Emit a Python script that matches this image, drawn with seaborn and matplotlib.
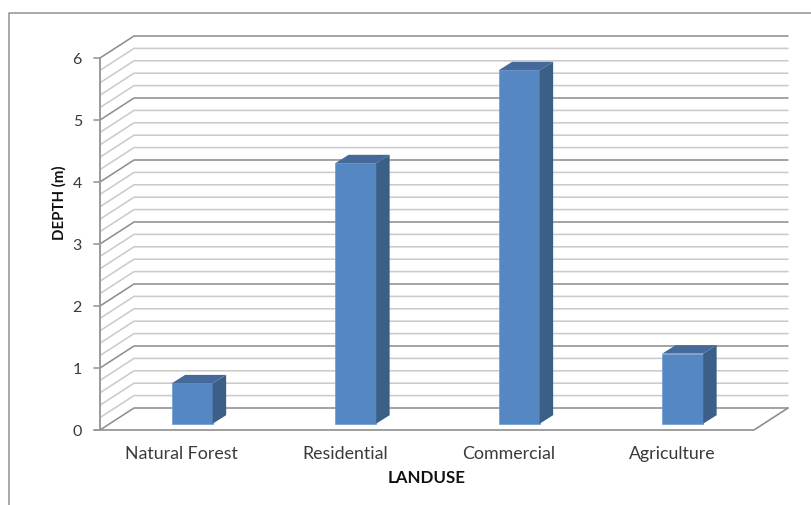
import matplotlib
matplotlib.use("Agg")
import matplotlib.pyplot as plt
from matplotlib.lines import Line2D
from matplotlib.patches import Polygon
import pandas as pd
import seaborn as sns

landuse = ["Natural Forest", "Residential", "Commercial", "Agriculture"]
depth = [0.65, 4.2, 5.7, 1.13]
y_major = [0, 1, 2, 3, 4, 5, 6]
y_minor = [0.2, 0.4, 0.6, 0.8]

W, H = 811, 505
PX_X, PX_Y = 163.5, 62.0          # pixels per category / per metre
DX, DY = 34 / PX_X, 22 / PX_Y     # wall depth in data units
BX, BY = 10.4 / PX_X, 6.3 / PX_Y  # bar shift from the front plane
SX, SY = 13.5 / PX_X, 8.5 / PX_Y  # bar depth
GREY_D, GREY_L, TXT = "#8f8f8f", "#cbcbcb", "#3a3a3a"

sns.set_theme(style="white")
plt.rcParams["font.family"] = ["Lato", "DejaVu Sans"]

fig = plt.figure(figsize=(W / 100, H / 100), dpi=100, facecolor="white")
ax = fig.add_axes([100 / W, (H - 430) / H, (654 + 34) / W, (372 + 22) / H])
ax.patch.set_alpha(0)

df = pd.DataFrame({"landuse": landuse, "depth": depth})
sns.barplot(data=df, x="landuse", y="depth", order=landuse, width=41 / PX_X,
            color="#5587c2", saturation=1, ax=ax, zorder=3,
            edgecolor="#6d9ad0", linewidth=0.5)
ax.set_xlim(-0.5, 3.5 + DX)
ax.set_ylim(0, 6 + DY)

# back wall and side wall lines
x0, x1 = -0.5, 3.5
for v in sorted(y_major + [m + k for k in y_major[:-1] for m in y_minor]):
    major = v in y_major
    ax.plot([x0, x0 + DX, x1 + DX], [v, v + DY, v + DY],
            color=GREY_D if major else GREY_L, lw=1.15, zorder=2 if major else 1,
            clip_on=False, solid_joinstyle="miter")
# floor
ax.plot([x0 - 6 / PX_X, x1, x1 + DX], [0, 0, DY], color=GREY_D, lw=1.2,
        zorder=2, clip_on=False)
# value axis
ax.plot([x0, x0], [0, 6], color="#9a9a9a", lw=1.4, zorder=2, clip_on=False)
for v in y_major:
    ax.plot([x0 - 6 / PX_X, x0], [v, v], color="#9a9a9a", lw=1.2, zorder=2, clip_on=False)

# 3-D faces derived from each bar
for bar in ax.patches[:len(depth)]:
    a, w, h = bar.get_x() + BX, bar.get_width(), bar.get_height()
    bar.set_x(a)
    bar.set_y(BY)
    top = BY + h
    ax.add_patch(Polygon([(a + w, BY), (a + w + SX, BY + SY), (a + w + SX, top + SY), (a + w, top)],
                         closed=True, fc="#3c5f88", ec="none", zorder=3))
    ax.add_patch(Polygon([(a, top), (a + SX, top + SY), (a + w + SX, top + SY), (a + w, top)],
                         closed=True, fc="#45699a", ec="none", zorder=3))

for s in ax.spines.values():
    s.set_visible(False)
ax.set_yticks(y_major)
ax.set_yticklabels([str(v) for v in y_major], fontsize=11.5, color=TXT)
ax.set_xticks(range(len(landuse)))
ax.set_xticklabels(landuse, fontsize=12.8, color=TXT)
ax.tick_params(axis="both", length=0)
ax.tick_params(axis="y", pad=13)
ax.tick_params(axis="x", pad=11.5)
ax.set_xlabel("")
ax.set_ylabel("")
fig.text(427 / W, 1 - 478 / H, "LANDUSE", fontsize=12.2, fontweight="bold", color="#111111",
         ha="center", va="center")
fig.text(59 / W, 1 - 203 / H, "DEPTH (m)", fontsize=10.8, fontweight="bold", color="#111111",
         rotation=90, ha="center", va="center")

# outer chart frame
fig.add_artist(Line2D([8.5 / W, 8.5 / W, 1], [0, 1 - 13 / H, 1 - 13 / H],
                      color="#9a9a9a", lw=1.2, transform=fig.transFigure))
fig.savefig("out.png", dpi=100, facecolor="white")
